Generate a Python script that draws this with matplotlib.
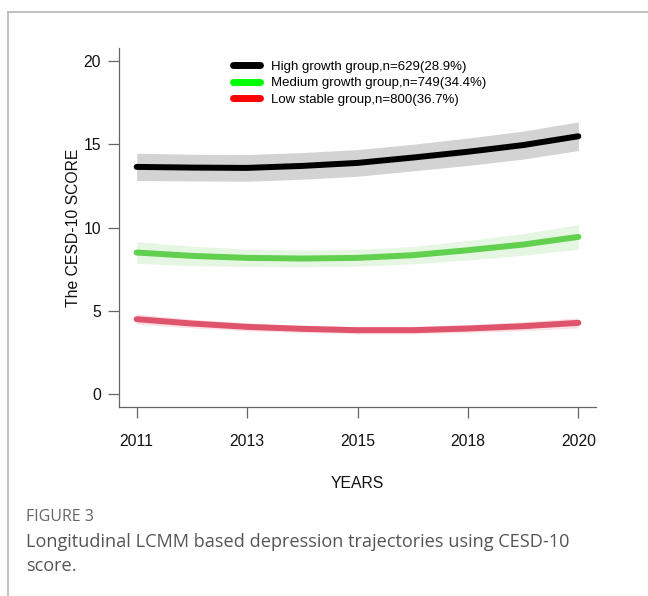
import matplotlib
matplotlib.use("Agg")
import matplotlib.pyplot as plt
from matplotlib.lines import Line2D

plt.rcParams['font.family'] = ['Liberation Sans', 'DejaVu Sans']

# survey waves, equally spaced on the x axis
waves = [1, 1.5, 2, 2.5, 3, 3.5, 4, 4.5, 5]
tick_waves = [1, 2, 3, 4, 5]
tick_labels = ['2011', '2013', '2015', '2018', '2020']

# predicted CESD-10 trajectories with 95% bands
high_mean = [13.64, 13.60, 13.58, 13.70, 13.88, 14.20, 14.55, 14.95, 15.48]
high_low = [12.82, 12.80, 12.78, 12.90, 13.08, 13.40, 13.73, 14.11, 14.62]
high_up = [14.46, 14.40, 14.38, 14.50, 14.68, 15.00, 15.37, 15.79, 16.34]

med_mean = [8.50, 8.30, 8.18, 8.14, 8.18, 8.34, 8.64, 8.98, 9.44]
med_low = [7.85, 7.72, 7.66, 7.64, 7.68, 7.82, 8.06, 8.33, 8.71]
med_up = [9.15, 8.88, 8.70, 8.64, 8.68, 8.86, 9.22, 9.63, 10.17]

low_mean = [4.50, 4.24, 4.04, 3.92, 3.84, 3.84, 3.94, 4.08, 4.28]
low_low = [4.20, 3.98, 3.80, 3.70, 3.62, 3.62, 3.70, 3.81, 3.98]
low_up = [4.80, 4.50, 4.28, 4.14, 4.06, 4.06, 4.18, 4.35, 4.58]

group_labels = ['High growth group,n=629(28.9%)',
                'Medium growth group,n=749(34.4%)',
                'Low stable group,n=800(36.7%)']

fig = plt.figure(figsize=(6.48, 5.96), dpi=100)
ax = fig.add_axes([0.1836, 0.3163, 0.7362, 0.6038])

ax.fill_between(waves, high_low, high_up, color='#D3D3D3', lw=0)
ax.fill_between(waves, med_low, med_up, color='#E5F6E2', lw=0)
ax.fill_between(waves, low_low, low_up, color='#FBE1E6', lw=0)

ax.plot(waves, high_mean, color='black', lw=4.3, solid_capstyle='round')
ax.plot(waves, med_mean, color='#61D04F', lw=4.3, solid_capstyle='round')
ax.plot(waves, low_mean, color='#DF536B', lw=4.3, solid_capstyle='round')

ax.set_xlim(0.84, 5.16)
ax.set_ylim(-0.8, 20.8)
ax.set_xticks(tick_waves)
ax.set_xticklabels(tick_labels)
ax.set_yticks([0, 5, 10, 15, 20])

for side in ['top', 'right']:
    ax.spines[side].set_visible(False)
for side in ['left', 'bottom']:
    ax.spines[side].set_color('#666666')
    ax.spines[side].set_linewidth(0.9)
ax.tick_params(direction='out', length=7.8, width=0.9, color='#666666',
               labelsize=11.3, labelcolor='#111111')
ax.tick_params(axis='x', pad=11)
ax.tick_params(axis='y', pad=5)

ax.set_xlabel('YEARS', fontsize=11.3, color='#111111', labelpad=20)
ax.set_ylabel('The CESD-10 SCORE', fontsize=11.3, color='#111111', labelpad=2)

handles = [Line2D([], [], color=c, lw=5, solid_capstyle='round')
           for c in ['black', '#00FF00', '#FF0000']]
ax.legend(handles, group_labels, loc='upper left', bbox_to_anchor=(0.22, 0.99),
          frameon=False, fontsize=9.5, handlelength=2.0, handletextpad=0.85,
          labelspacing=0.32, borderaxespad=0.3)

# outer frame of the figure panel
fig.add_artist(Line2D([8 / 648, 1], [1 - 12 / 596, 1 - 12 / 596],
                      color='#BBBBBB', lw=1.3))
fig.add_artist(Line2D([8 / 648, 8 / 648], [0, 1 - 12 / 596],
                      color='#BBBBBB', lw=1.3))

fig.text(26 / 648, 1 - 517 / 596, 'FIGURE 3', fontsize=11.5, color='#666666',
         family=['Open Sans', 'DejaVu Sans'], va='center')
fig.text(26 / 648, 1 - 554 / 596,
         'Longitudinal LCMM based depression trajectories using CESD-10\nscore.',
         fontsize=13.1, color='#555555', family=['Open Sans', 'DejaVu Sans'],
         va='center', linespacing=1.45)

fig.savefig('out.png', dpi=100)
